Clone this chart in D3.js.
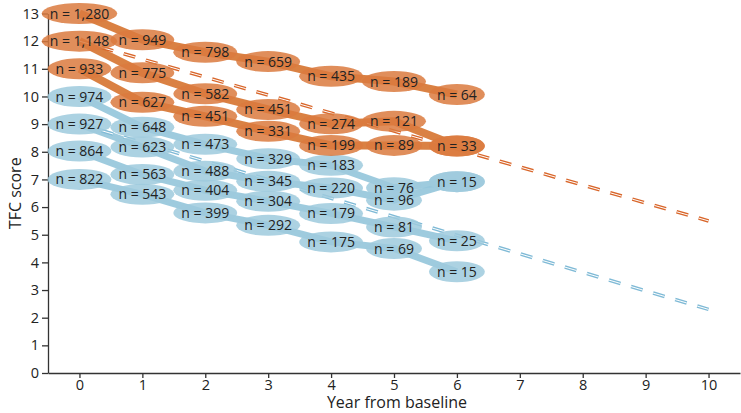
<!DOCTYPE html>
<html><head><meta charset="utf-8">
<script src="https://cdn.jsdelivr.net/npm/d3@7"></script>
<style>body{margin:0;background:#fff}text{font-family:"Open Sans","Noto Sans",sans-serif}</style>
</head><body><svg id="c" width="741" height="413"></svg>
<script>
const years = [0,1,2,3,4,5,6];
const xTicks = [0,1,2,3,4,5,6,7,8,9,10];
const yTicks = [0,1,2,3,4,5,6,7,8,9,10,11,12,13];
// orange cohorts (baseline TFC 13, 12, 11)
const orangeA_score = [13,12.05,11.6,11.26,10.73,10.54,10.07];
const orangeA_n = ["1,280","949","798","659","435","189","64"];
const orangeB_score = [12,10.86,10.1,9.53,9.01,9.1,8.21];
const orangeB_n = ["1,148","775","582","451","274","121","33"];
const orangeC_score = [11,9.79,9.28,8.74,8.23,8.23,8.21];
const orangeC_n = ["933","627","451","331","199","89","33"];
// blue cohorts (baseline TFC 10, 9, 8, 7)
const blueD_score = [10,8.89,8.27,7.75,7.51,6.7,6.92];
const blueD_n = ["974","648","473","329","183","76","15"];
const blueE_score = [9,8.17,7.3,6.93,6.69,6.25,6.92];
const blueE_n = ["927","623","488","345","220","96","15"];
const blueF_score = [8.03,7.18,6.61,6.21,5.77,5.28,4.78];
const blueF_n = ["864","563","404","304","179","81","25"];
const blueG_score = [7,6.46,5.79,5.34,4.74,4.5,3.66];
const blueG_n = ["822","543","399","292","175","69","15"];
// dashed trend lines [year, score]
const orangeTrend = [[0,12],[10,5.5]];
const blueTrend = [[0,9],[10,2.3]];

const ORANGE="#DB7A3E", ORANGE_LINE="#D6732F", BLUE="#9DCADD", BLUE_LINE="#93C5DA";
const svg = d3.select("#c");
const x = d3.scaleLinear().domain([-0.5,10.5]).range([48,740]);
const y = d3.scaleLinear().domain([0,13]).range([373,13.5]);

const blues = [
 {s:blueG_score,n:blueG_n},{s:blueF_score,n:blueF_n},{s:blueE_score,n:blueE_n},{s:blueD_score,n:blueD_n}];
const oranges = [
 {s:orangeC_score,n:orangeC_n},{s:orangeB_score,n:orangeB_n},{s:orangeA_score,n:orangeA_n}];

// axes
const gx = svg.append("g").attr("transform",`translate(0,${y(0)})`)
  .call(d3.axisBottom(x).tickValues(xTicks).tickSize(5).tickSizeOuter(0).tickPadding(2));
const gy = svg.append("g").attr("transform",`translate(${x(-0.5)},0)`)
  .call(d3.axisLeft(y).tickValues(yTicks).tickSize(6).tickSizeOuter(0).tickPadding(3));
[gx,gy].forEach(g=>{g.selectAll("path,line").attr("stroke","#333").attr("stroke-width",1.3);
  g.selectAll("text").attr("font-size",14.5).attr("fill","#222").attr("font-family","Open Sans");});

const line = d3.line().x(d=>x(d[0])).y(d=>y(d[1]));
const drawTrend=(pts,col)=>{
  svg.append("path").attr("d",line(pts)).attr("fill","none").attr("stroke",col)
    .attr("stroke-width",3.6).attr("stroke-dasharray","12,11");
  svg.append("path").attr("d",line(pts)).attr("fill","none").attr("stroke","#fff")
    .attr("stroke-width",1).attr("stroke-dasharray","12,11");
};
function drawLayer(gs, fill, lineCol, lw, trend, trendCol){
  gs.forEach(g=>{
    svg.append("path").attr("d",line(years.map((yr,i)=>[yr,g.s[i]])))
      .attr("fill","none").attr("stroke",lineCol).attr("stroke-width",lw).attr("opacity",0.9);
  });
  drawTrend(trend,trendCol);
  const eg = svg.append("g"), tg = svg.append("g");
  const seen = new Set();
  gs.forEach(g=>{
    years.forEach((yr,i)=>{
      const cx=x(yr), cy=y(g.s[i]);
      const key = yr+"|"+g.s[i]+"|"+g.n[i];
      const t = tg.append("text").attr("x",cx).attr("y",cy).attr("dy","0.36em")
        .attr("text-anchor","middle").attr("font-size",14).attr("fill","#222")
        .text("n = "+g.n[i]);
      const w = t.node().getComputedTextLength();
      if (seen.has(key)) t.remove();
      seen.add(key);
      eg.append("ellipse").attr("cx",cx).attr("cy",cy).attr("rx",w/2+8).attr("ry",10.5)
        .attr("fill",fill).attr("opacity",0.85);
    });
  });
}
drawLayer(blues, BLUE, BLUE_LINE, 7, blueTrend, "#7FBAD6");
drawLayer(oranges, ORANGE, ORANGE_LINE, 8, orangeTrend, "#D9662A");

svg.append("text").attr("x",397).attr("y",408).attr("text-anchor","middle")
  .attr("font-size",16).attr("fill","#222").text("Year from baseline");
svg.append("text").attr("transform",`translate(15,${(y(0)+y(13))/2}) rotate(-90)`)
  .attr("text-anchor","middle").attr("dy","0.35em").attr("font-size",16).attr("fill","#222").text("TFC score");
</script></body></html>
